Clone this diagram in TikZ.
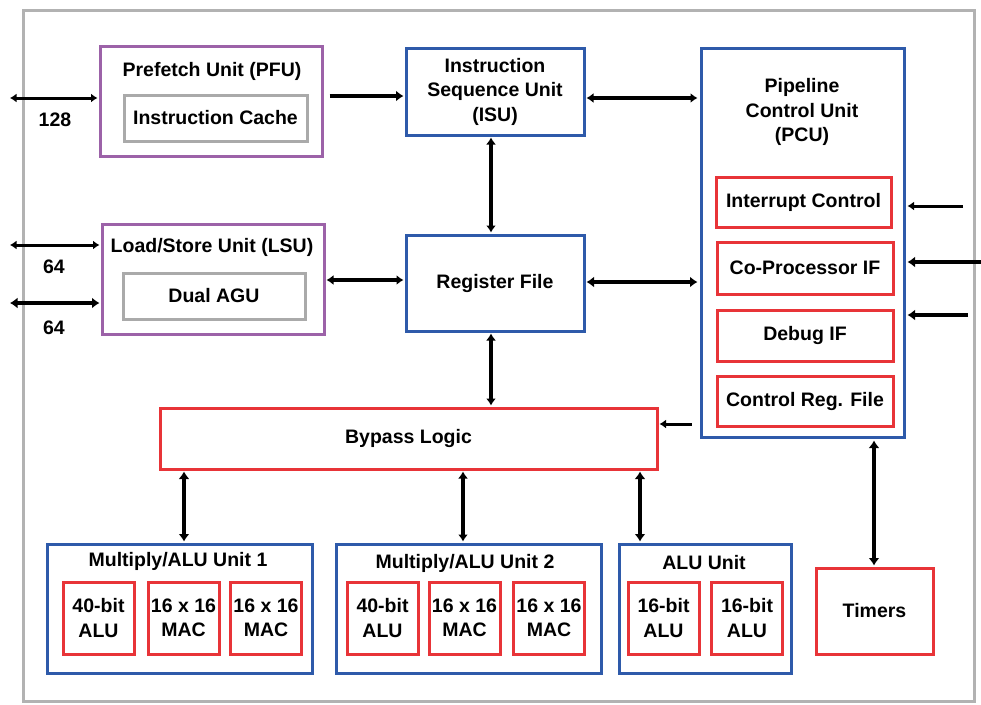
\documentclass[tikz,border=0pt]{standalone}
\usepackage{fontspec}
\setmainfont{Liberation Sans}
\usetikzlibrary{arrows.meta}
\definecolor{frameGray}{RGB}{178,178,178}
\definecolor{boxBlue}{RGB}{46,90,170}
\definecolor{boxRed}{RGB}{232,52,56}
\definecolor{boxPurple}{RGB}{156,98,168}
\definecolor{boxGray}{RGB}{170,170,170}
\begin{document}
\begin{tikzpicture}[x=1pt,y=-1pt,
  txt/.style={font=\fontsize{19.5}{24.5}\selectfont\bfseries, align=center, inner sep=0},
  blk/.style={draw, line width=3pt, inner sep=0, txt},
  bluebox/.style={blk, draw=boxBlue},
  redbox/.style={blk, draw=boxRed},
  purplebox/.style={blk, draw=boxPurple},
  graybox/.style={blk, draw=boxGray},
  cell/.style={redbox, minimum width=71pt, minimum height=72pt},
  tipS/.tip={Latex[length=6.5pt,width=9pt]},
  tipM/.tip={Latex[length=7pt,width=10pt]},
  tipL/.tip={Latex[length=7.5pt,width=11pt]},
  thinline/.style={line width=3pt, tipS-tipS},
  midline/.style={line width=3.5pt, tipM-tipM},
  thickline/.style={line width=4.8pt, tipL-tipL},
  thinone/.style={line width=3pt, -tipS},
  thickone/.style={line width=4.8pt, -tipL},
]
\useasboundingbox (0,0) rectangle (981,704);
\draw[frameGray, line width=3pt] (23,10) rectangle (974,701);

% front end
\node[purplebox, minimum width=222pt, minimum height=110pt] (pfu) at (211,101) {};
\node[txt] (pfuT) at (212,71) {Prefetch Unit (PFU)};
\node[graybox, minimum width=183pt, minimum height=46pt] (icache) at (215.5,118) {Instruction Cache};

\node[purplebox, minimum width=222pt, minimum height=110pt] (lsu) at (213,279) {};
\node[txt] (lsuT) at (212,247) {Load/Store Unit (LSU)};
\node[graybox, minimum width=182pt, minimum height=46pt] (agu) at (214,296) {Dual AGU};

\node[bluebox, minimum width=178pt, minimum height=87pt] (isu) at (495,91.5) {Instruction\\Sequence Unit\\(ISU)};
\node[bluebox, minimum width=178pt, minimum height=96pt] (rf) at (495,283) {Register File};

% pipeline control
\node[bluebox, minimum width=203pt, minimum height=389pt] (pcu) at (802.5,242.5) {};
\node[txt] (pcuT) at (802,112) {Pipeline\\Control Unit\\(PCU)};
\node[redbox, minimum width=175pt, minimum height=50pt] (intc) at (803.5,202) {Interrupt Control};
\node[redbox, minimum width=176pt, minimum height=52pt] (cop) at (805,268) {Co-Processor IF};
\node[redbox, minimum width=176pt, minimum height=51pt] (dbg) at (805,335.5) {Debug IF};
\node[redbox, minimum width=176pt, minimum height=50pt] (crf) at (805,401) {Control Reg. File};

\node[redbox, minimum width=497pt, minimum height=61pt] (byp) at (408.5,438.5) {Bypass Logic};

% execution units
\node[bluebox, minimum width=265pt, minimum height=129pt] (mau1) at (179.5,608.5) {};
\node[txt] (mau1T) at (178,561) {Multiply/ALU Unit 1};
\node[cell] (a1) at (98.5,618) {40-bit\\ALU};
\node[cell] (m1) at (183.5,618) {16 x 16\\MAC};
\node[cell] (m2) at (266,618) {16 x 16\\MAC};

\node[bluebox, minimum width=265pt, minimum height=129pt] (mau2) at (468.5,608.5) {};
\node[txt] (mau2T) at (465,563) {Multiply/ALU Unit 2};
\node[cell] (a2) at (382.5,618) {40-bit\\ALU};
\node[cell] (m3) at (464.5,618) {16 x 16\\MAC};
\node[cell] (m4) at (549,618) {16 x 16\\MAC};

\node[bluebox, minimum width=172pt, minimum height=129pt] (aluu) at (705,608.5) {};
\node[txt] (aluuT) at (704,563) {ALU Unit};
\node[cell] (a3) at (663.5,618) {16-bit\\ALU};
\node[cell] (a4) at (747,618) {16-bit\\ALU};

\node[redbox, minimum width=117pt, minimum height=86pt] (timers) at (874.5,611) {Timers};

% external ports
\coordinate (ext128) at (10,98);
\coordinate (ext64a) at (10,245);
\coordinate (ext64b) at (10,303);
\coordinate (extIrq) at (963,206);
\coordinate (extCop) at (981,262);
\coordinate (extDbg) at (968,315);
\node[txt] (l128) at (55,120) {128};
\node[txt] (l64a) at (54,267) {64};
\node[txt] (l64b) at (54,328) {64};

% connectors
\draw[thinline] (ext128) -- ([yshift=3pt,xshift=-1pt]pfu.west);
\draw[thinline] (ext64a) -- ([yshift=34pt,xshift=-1pt]lsu.west);
\draw[thickline] (ext64b) -- ([yshift=-24pt,xshift=-1pt]lsu.west);
\draw[thickone] ([yshift=5pt,xshift=6pt]pfu.east) -- ([yshift=-4.5pt,xshift=-1pt]isu.west);
\draw[midline] ([yshift=-6.5pt,xshift=1pt]isu.east) -- ([yshift=144.5pt,xshift=-2pt]pcu.west);
\draw[midline] ([yshift=-1pt,xshift=1pt]lsu.east) -- ([yshift=3pt,xshift=-1pt]rf.west);
\draw[thickline] ([yshift=1pt,xshift=1pt]rf.east) -- ([yshift=-39.5pt,xshift=-2pt]pcu.west);
\draw[midline] ([xshift=-4pt,yshift=-1pt]isu.south) -- ([xshift=-4pt,yshift=1pt]rf.north);
\draw[midline] ([xshift=-4pt,yshift=-1pt]rf.south) -- ([xshift=82.5pt,yshift=1pt]byp.north);
\draw[thinone] ([yshift=-181.5pt,xshift=-8pt]pcu.west) -- ([yshift=14.5pt,xshift=1pt]byp.east);
\draw[thinone] (extIrq) -- ([yshift=36.5pt,xshift=2pt]pcu.east);
\draw[thickone] (extCop) -- ([yshift=-19.5pt,xshift=2pt]pcu.east);
\draw[thickone] (extDbg) -- ([yshift=-72.5pt,xshift=2pt]pcu.east);
\draw[thickline] ([xshift=-224.5pt,yshift=-1pt]byp.south) -- ([xshift=4.5pt,yshift=1pt]mau1.north);
\draw[midline] ([xshift=54.5pt,yshift=-1pt]byp.south) -- ([xshift=-5.5pt,yshift=1pt]mau2.north);
\draw[thickline] ([xshift=231.5pt,yshift=-1pt]byp.south) -- ([xshift=-65pt,yshift=1pt]aluu.north);
\draw[thickline] ([xshift=71.5pt,yshift=-2pt]pcu.south) -- ([xshift=-0.5pt,yshift=1pt]timers.north);
\end{tikzpicture}
\end{document}
